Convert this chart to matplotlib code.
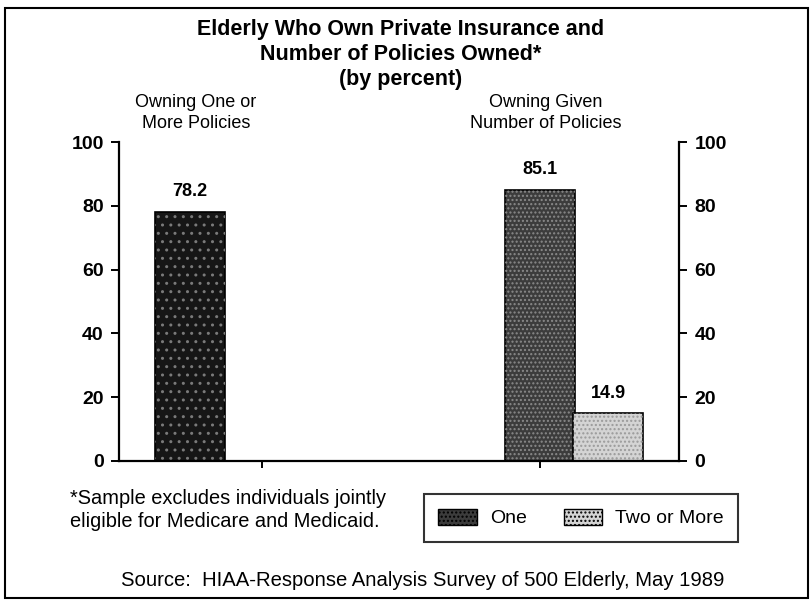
import matplotlib

matplotlib.use("Agg")
import matplotlib.pyplot as plt
from matplotlib.patches import Patch, Rectangle

plt.rcParams["font.family"] = ["Liberation Sans", "DejaVu Sans"]

# data
group_labels = ["Owning One or\nMore Policies", "Owning Given\nNumber of Policies"]
any_policy = [78.2]
by_count = [85.1, 14.9]
count_labels = ["One", "Two or More"]
y_ticks = [0, 20, 40, 60, 80, 100]

# colours
DARKEST = "#161616"
DARK = "#3c3c3c"
LIGHT = "#d4d4d4"

fig = plt.figure(figsize=(8.1, 6.03), dpi=100)
ax = fig.add_axes([119 / 810, 0.2355, 560 / 810, 0.529])

# bar positions, in units of one bar width (70 px)
left_x = [1.01]
right_x = [6.01, 6.99]
ax.set_xlim(0, 8.0)
ax.set_ylim(0, 100)

ax.bar(left_x, any_policy, width=1.0, color=DARKEST, edgecolor="black", lw=1.2)
ax.bar(left_x, any_policy, width=1.0, color="none", edgecolor="#7a7a7a",
       hatch="..", lw=0)
ax.bar(right_x[0], by_count[0], width=1.0, color=DARK, edgecolor="black", lw=1.2)
ax.bar(right_x[0], by_count[0], width=1.0, color="none", edgecolor="#8a8a8a",
       hatch="....", lw=0)
ax.bar(right_x[1], by_count[1], width=1.0, color=LIGHT, edgecolor="black", lw=1.2)
ax.bar(right_x[1], by_count[1], width=1.0, color="none", edgecolor="#9a9a9a",
       hatch="....", lw=0)

for x, v in zip(left_x + right_x, any_policy + by_count):
    ax.text(x, v + 3.5, f"{v:.1f}", ha="center", va="bottom", fontsize=13,
            fontweight="bold")

# axes styling
ax.spines["top"].set_visible(False)
for side in ("left", "right", "bottom"):
    ax.spines[side].set_linewidth(1.6)
ax.set_yticks(y_ticks)
ax.tick_params(axis="y", which="both", direction="out", length=6, width=1.4,
               labelsize=14, left=True, right=True, labelleft=True,
               labelright=True, pad=5)
for lab in ax.get_yticklabels():
    lab.set_fontweight("bold")
ax.set_xticks([2.04, 6.01])
ax.set_xticklabels([])
ax.tick_params(axis="x", direction="out", length=5, width=1.4)

# group headers above the plot
fig.text(196 / 810, 1 - 113 / 603, group_labels[0], ha="center", va="center",
         fontsize=13, linespacing=1.3)
fig.text(546 / 810, 1 - 113 / 603, group_labels[1], ha="center", va="center",
         fontsize=13, linespacing=1.3)

# title
fig.text(401 / 810, 1 - 54 / 603,
         "Elderly Who Own Private Insurance and\nNumber of Policies Owned*\n(by percent)",
         ha="center", va="center", fontsize=15.5, fontweight="bold",
         linespacing=1.25)

# footnote and source
fig.text(70 / 810, 1 - 510 / 603,
         "*Sample excludes individuals jointly\neligible for Medicare and Medicaid.",
         ha="left", va="center", fontsize=14.4, linespacing=1.25)
fig.text(423 / 810, 1 - 580 / 603,
         "Source:  HIAA-Response Analysis Survey of 500 Elderly, May 1989",
         ha="center", va="center", fontsize=14.6)

# legend
handles = [
    Patch(facecolor=DARK, edgecolor="black", hatch="....", label=count_labels[0]),
    Patch(facecolor=LIGHT, edgecolor="black", hatch="....", label=count_labels[1]),
]
leg = fig.legend(handles=handles, loc="center", bbox_to_anchor=(581 / 810, 1 - 518 / 603),
                 ncol=2, fontsize=14, frameon=True, fancybox=False,
                 handlelength=2.0, handleheight=0.9, columnspacing=1.9,
                 borderpad=0.75, handletextpad=0.65)
leg.get_frame().set_edgecolor("black")
leg.get_frame().set_linewidth(1.5)

# outer frame
fig.add_artist(Rectangle((5 / 810, 1 - 598 / 603), 803 / 810, 590 / 603,
                         transform=fig.transFigure, fill=False,
                         edgecolor="black", lw=1.5))

fig.savefig("out.png", dpi=100)
